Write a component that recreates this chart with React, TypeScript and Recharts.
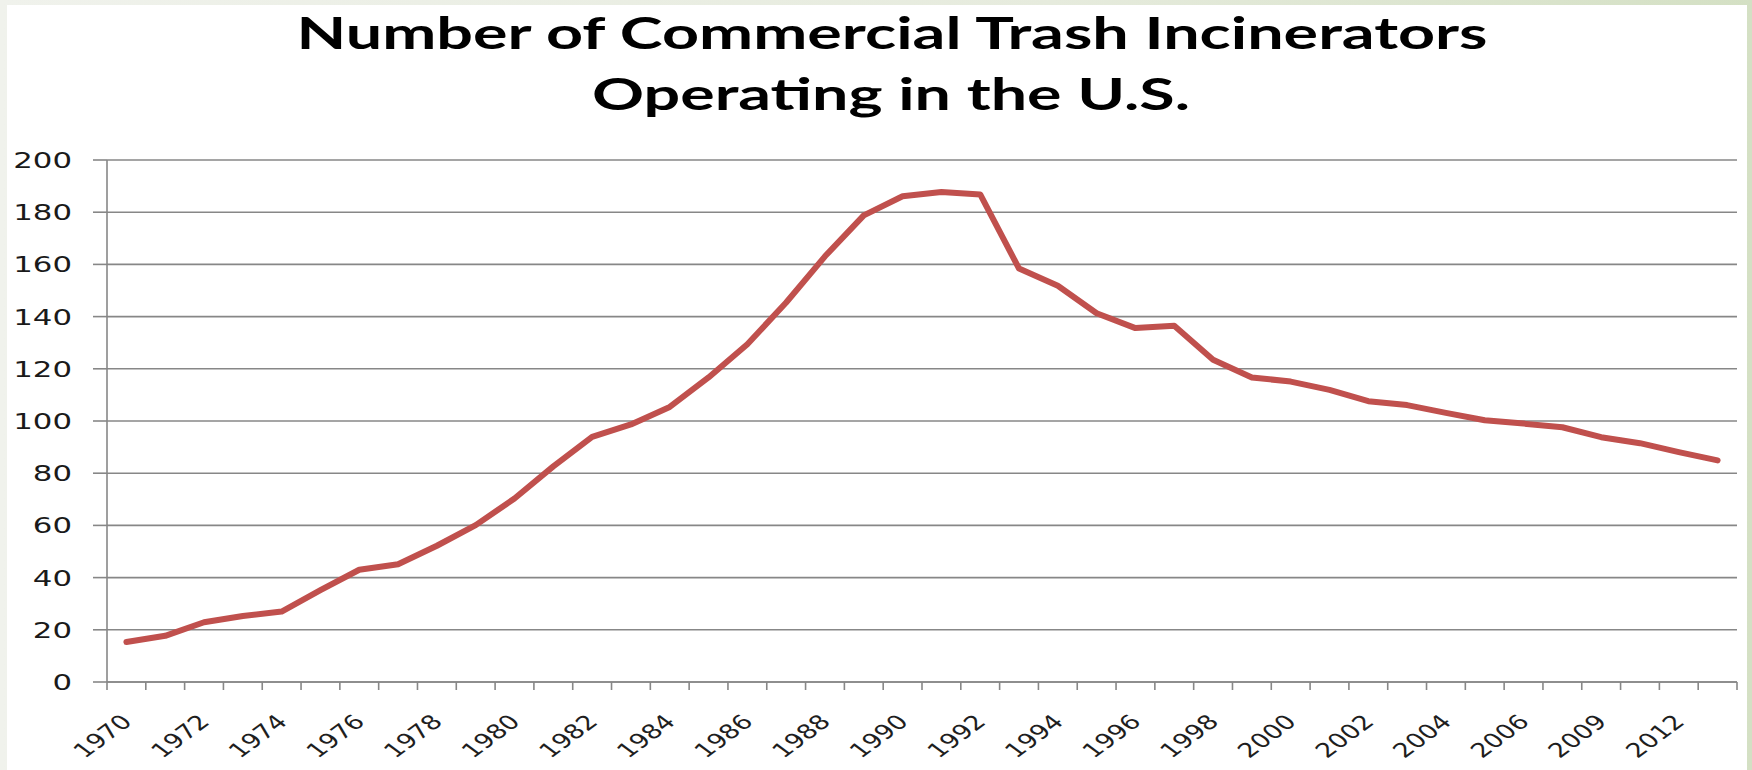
import { LineChart, Line, XAxis, YAxis, CartesianGrid } from 'recharts';

const years = [
  '1970', '1971', '1972', '1973', '1974', '1975', '1976', '1977', '1978', '1979',
  '1980', '1981', '1982', '1983', '1984', '1985', '1986', '1987', '1988', '1989',
  '1990', '1991', '1992', '1993', '1994', '1995', '1996', '1997', '1998', '1999',
  '2000', '2001', '2002', '2003', '2004', '2005', '2006', '2008', '2009', '2011',
  '2012', '2014',
];

const incinerators = [
  15.3, 17.7, 22.9, 25.3, 27.0, 35.2, 43.0, 45.1, 52.2, 60.1,
  70.3, 82.6, 93.9, 98.7, 105.4, 116.7, 129.4, 145.4, 163.1, 178.8,
  186.1, 187.7, 186.8, 158.4, 151.8, 141.3, 135.6, 136.5, 123.5, 116.7,
  115.1, 111.9, 107.6, 106.1, 103.1, 100.3, 99.0, 97.6, 93.8, 91.5,
  88.1, 84.9,
];

const countTicks = [0, 20, 40, 60, 80, 100, 120, 140, 160, 180, 200];

// each year sits in the middle of its slot, tick marks go between slots
const data = years.map((year, i) => ({ year, pos: i + 0.5, count: incinerators[i] }));
const slotEdges = [...years.map((_, i) => i), years.length];
const labelPositions = data.filter((_, i) => i % 2 === 0).map((d) => d.pos);

const gridColor = '#878787';
const labelFont = '"DejaVu Sans", Verdana, sans-serif';

const YearTick = ({ x, y, payload }: any) => {
  const label = years[Math.floor(payload.value)];
  return (
    <text
      transform={`translate(${x + 7},${y + 40}) scale(1.35,1) rotate(-45)`}
      textAnchor="end"
      fontSize={20}
      fontFamily={labelFont}
      fill="#1e1e1e"
    >
      {label}
    </text>
  );
};

const CountTick = ({ x, y, payload }: any) => (
  <text
    transform={`translate(${x},${y}) scale(1.4,1)`}
    textAnchor="end"
    dy="0.36em"
    fontSize={22}
    fontFamily={labelFont}
    fill="#1a1a1a"
  >
    {payload.value}
  </text>
);

const NoLabel = () => <g />;

export default function App() {
  return (
    <div
      style={{
        position: 'absolute',
        left: 0,
        top: 0,
        width: 1752,
        height: 770,
        background: 'linear-gradient(90deg, #f0f2ec 0%, #e6ebdd 60%, #d4e0c4 100%)',
        overflow: 'hidden',
      }}
    >
      <div
        style={{
          position: 'absolute',
          left: 7,
          top: 5,
          width: 1740,
          height: 765,
          background: '#ffffff',
        }}
      />
      <svg
        width={1752}
        height={140}
        style={{ position: 'absolute', left: 0, top: 0 }}
      >
        <text
          x={892}
          y={49}
          textAnchor="middle"
          textLength={1191}
          lengthAdjust="spacingAndGlyphs"
          fontFamily="Lato, 'Open Sans', sans-serif"
          fontWeight={700}
          fontSize={44}
          fill="#000"
        >
          Number of Commercial Trash Incinerators
        </text>
        <text
          x={891}
          y={110}
          textAnchor="middle"
          textLength={598}
          lengthAdjust="spacingAndGlyphs"
          fontFamily="Lato, 'Open Sans', sans-serif"
          fontWeight={700}
          fontSize={44}
          fill="#000"
        >
          Operating in the U.S.
        </text>
      </svg>
      <div style={{ position: 'absolute', left: 0, top: 0 }}>
        <LineChart
          width={1752}
          height={770}
          data={data}
          margin={{ top: 160, right: 15, bottom: 86, left: 7 }}
        >
          <CartesianGrid
            vertical={false}
            stroke={gridColor}
            strokeWidth={1.6}
          />
          <XAxis
            dataKey="pos"
            type="number"
            domain={[0, years.length]}
            ticks={slotEdges}
            interval={0}
            height={1}
            stroke={gridColor}
            axisLine={{ strokeWidth: 1.6 }}
            tickLine={{ strokeWidth: 1.6 }}
            tickSize={8}
            tick={NoLabel}
          />
          <XAxis
            xAxisId="labels"
            dataKey="pos"
            type="number"
            domain={[0, years.length]}
            ticks={labelPositions}
            interval={0}
            height={1}
            axisLine={false}
            tickLine={false}
            tickSize={0}
            tickMargin={0}
            tick={<YearTick />}
          />
          <YAxis
            type="number"
            domain={[0, 200]}
            ticks={countTicks}
            interval={0}
            width={100}
            stroke={gridColor}
            axisLine={{ strokeWidth: 1.6 }}
            tickLine={{ strokeWidth: 1.6 }}
            tickSize={14}
            tickMargin={21}
            tick={<CountTick />}
          />
          <Line
            type="linear"
            dataKey="count"
            stroke="#c0504d"
            strokeWidth={6}
            strokeLinejoin="round"
            strokeLinecap="round"
            dot={false}
            activeDot={false}
            isAnimationActive={false}
          />
        </LineChart>
      </div>
    </div>
  );
}
